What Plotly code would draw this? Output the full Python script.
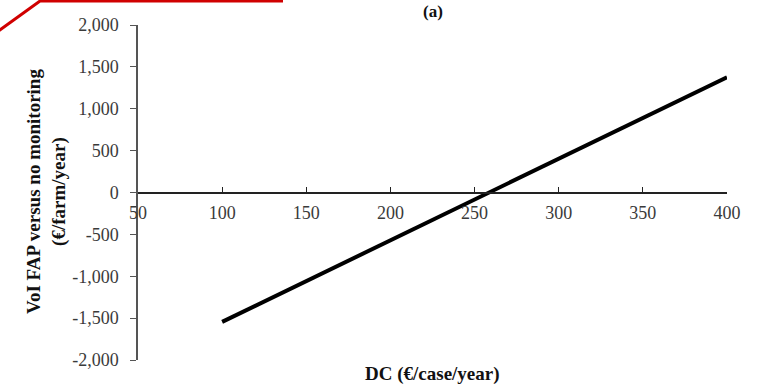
import plotly.graph_objects as go

# Data
dc_values = [100, 150, 200, 250, 300, 350, 400]
voi_values = [-1545, -1058, -571, -84, 403, 890, 1377]

x_ticks = [50, 100, 150, 200, 250, 300, 350, 400]
y_ticks = [-2000, -1500, -1000, -500, 0, 500, 1000, 1500, 2000]
y_tick_text = ["-2,000", "-1,500", "-1,000", "-500", "0", "500", "1,000", "1,500", "2,000"]

serif = "Liberation Serif, Times New Roman, serif"

W, H = 764, 390
L, R, T, B = 138, 37, 25, 30
pw = W - L - R
ph = H - T - B


def px(xp):
    return (xp - L) / pw


def py(yp):
    return (H - B - yp) / ph


fig = go.Figure()
fig.add_trace(go.Scatter(
    x=dc_values, y=voi_values, mode="lines",
    line=dict(color="black", width=4),
    showlegend=False, hoverinfo="skip",
))

fig.update_layout(
    width=W, height=H,
    margin=dict(l=L, r=R, t=T, b=B, autoexpand=False),
    paper_bgcolor="white", plot_bgcolor="white",
    font=dict(family=serif, size=18, color="#3a3a3a"),
    xaxis=dict(
        range=[50, 400], tickvals=x_ticks,
        anchor="free", position=0.5,
        showline=True, linecolor="#222222", linewidth=1.5,
        ticks="inside", ticklen=5, tickcolor="#222222",
        showgrid=False, zeroline=False,
        ticklabelstandoff=4,
        tickfont=dict(family=serif, size=18, color="#3a3a3a"),
    ),
    yaxis=dict(
        range=[-2000, 2000], tickvals=y_ticks, ticktext=y_tick_text,
        showline=True, linecolor="#555555", linewidth=1.5,
        ticks="outside", ticklen=6, tickcolor="#555555",
        showgrid=False, zeroline=False,
        ticklabelstandoff=8,
        tickfont=dict(family=serif, size=18, color="#3a3a3a"),
    ),
    annotations=[
        dict(text="<b>(a)</b>", x=0.5, y=py(11), xref="paper", yref="paper",
             xanchor="center", yanchor="middle", showarrow=False,
             font=dict(family=serif, size=17, color="#111111")),
        dict(text="<b>DC (€/case/year)</b>", x=0.5, y=py(374), xref="paper", yref="paper",
             xanchor="center", yanchor="middle", showarrow=False,
             font=dict(family=serif, size=19, color="#111111")),
        dict(text="<b>VoI FAP versus no monitoring<br>(€/farm/year)</b>",
             x=px(46), y=py(192), xref="paper", yref="paper",
             xanchor="center", yanchor="middle",
             textangle=-90, showarrow=False,
             font=dict(family=serif, size=19, color="#111111")),
    ],
    shapes=[dict(
        type="path", xref="paper", yref="paper",
        path=f"M {px(-3)} {py(32)} L {px(40)} {py(1)} L {px(283)} {py(1)}",
        line=dict(color="#d00000", width=3),
    )],
)

fig.write_html(
    "out.html",
    config={"displayModeBar": False},
    post_script="document.body.style.margin='0';document.body.style.overflow='hidden';",
)
